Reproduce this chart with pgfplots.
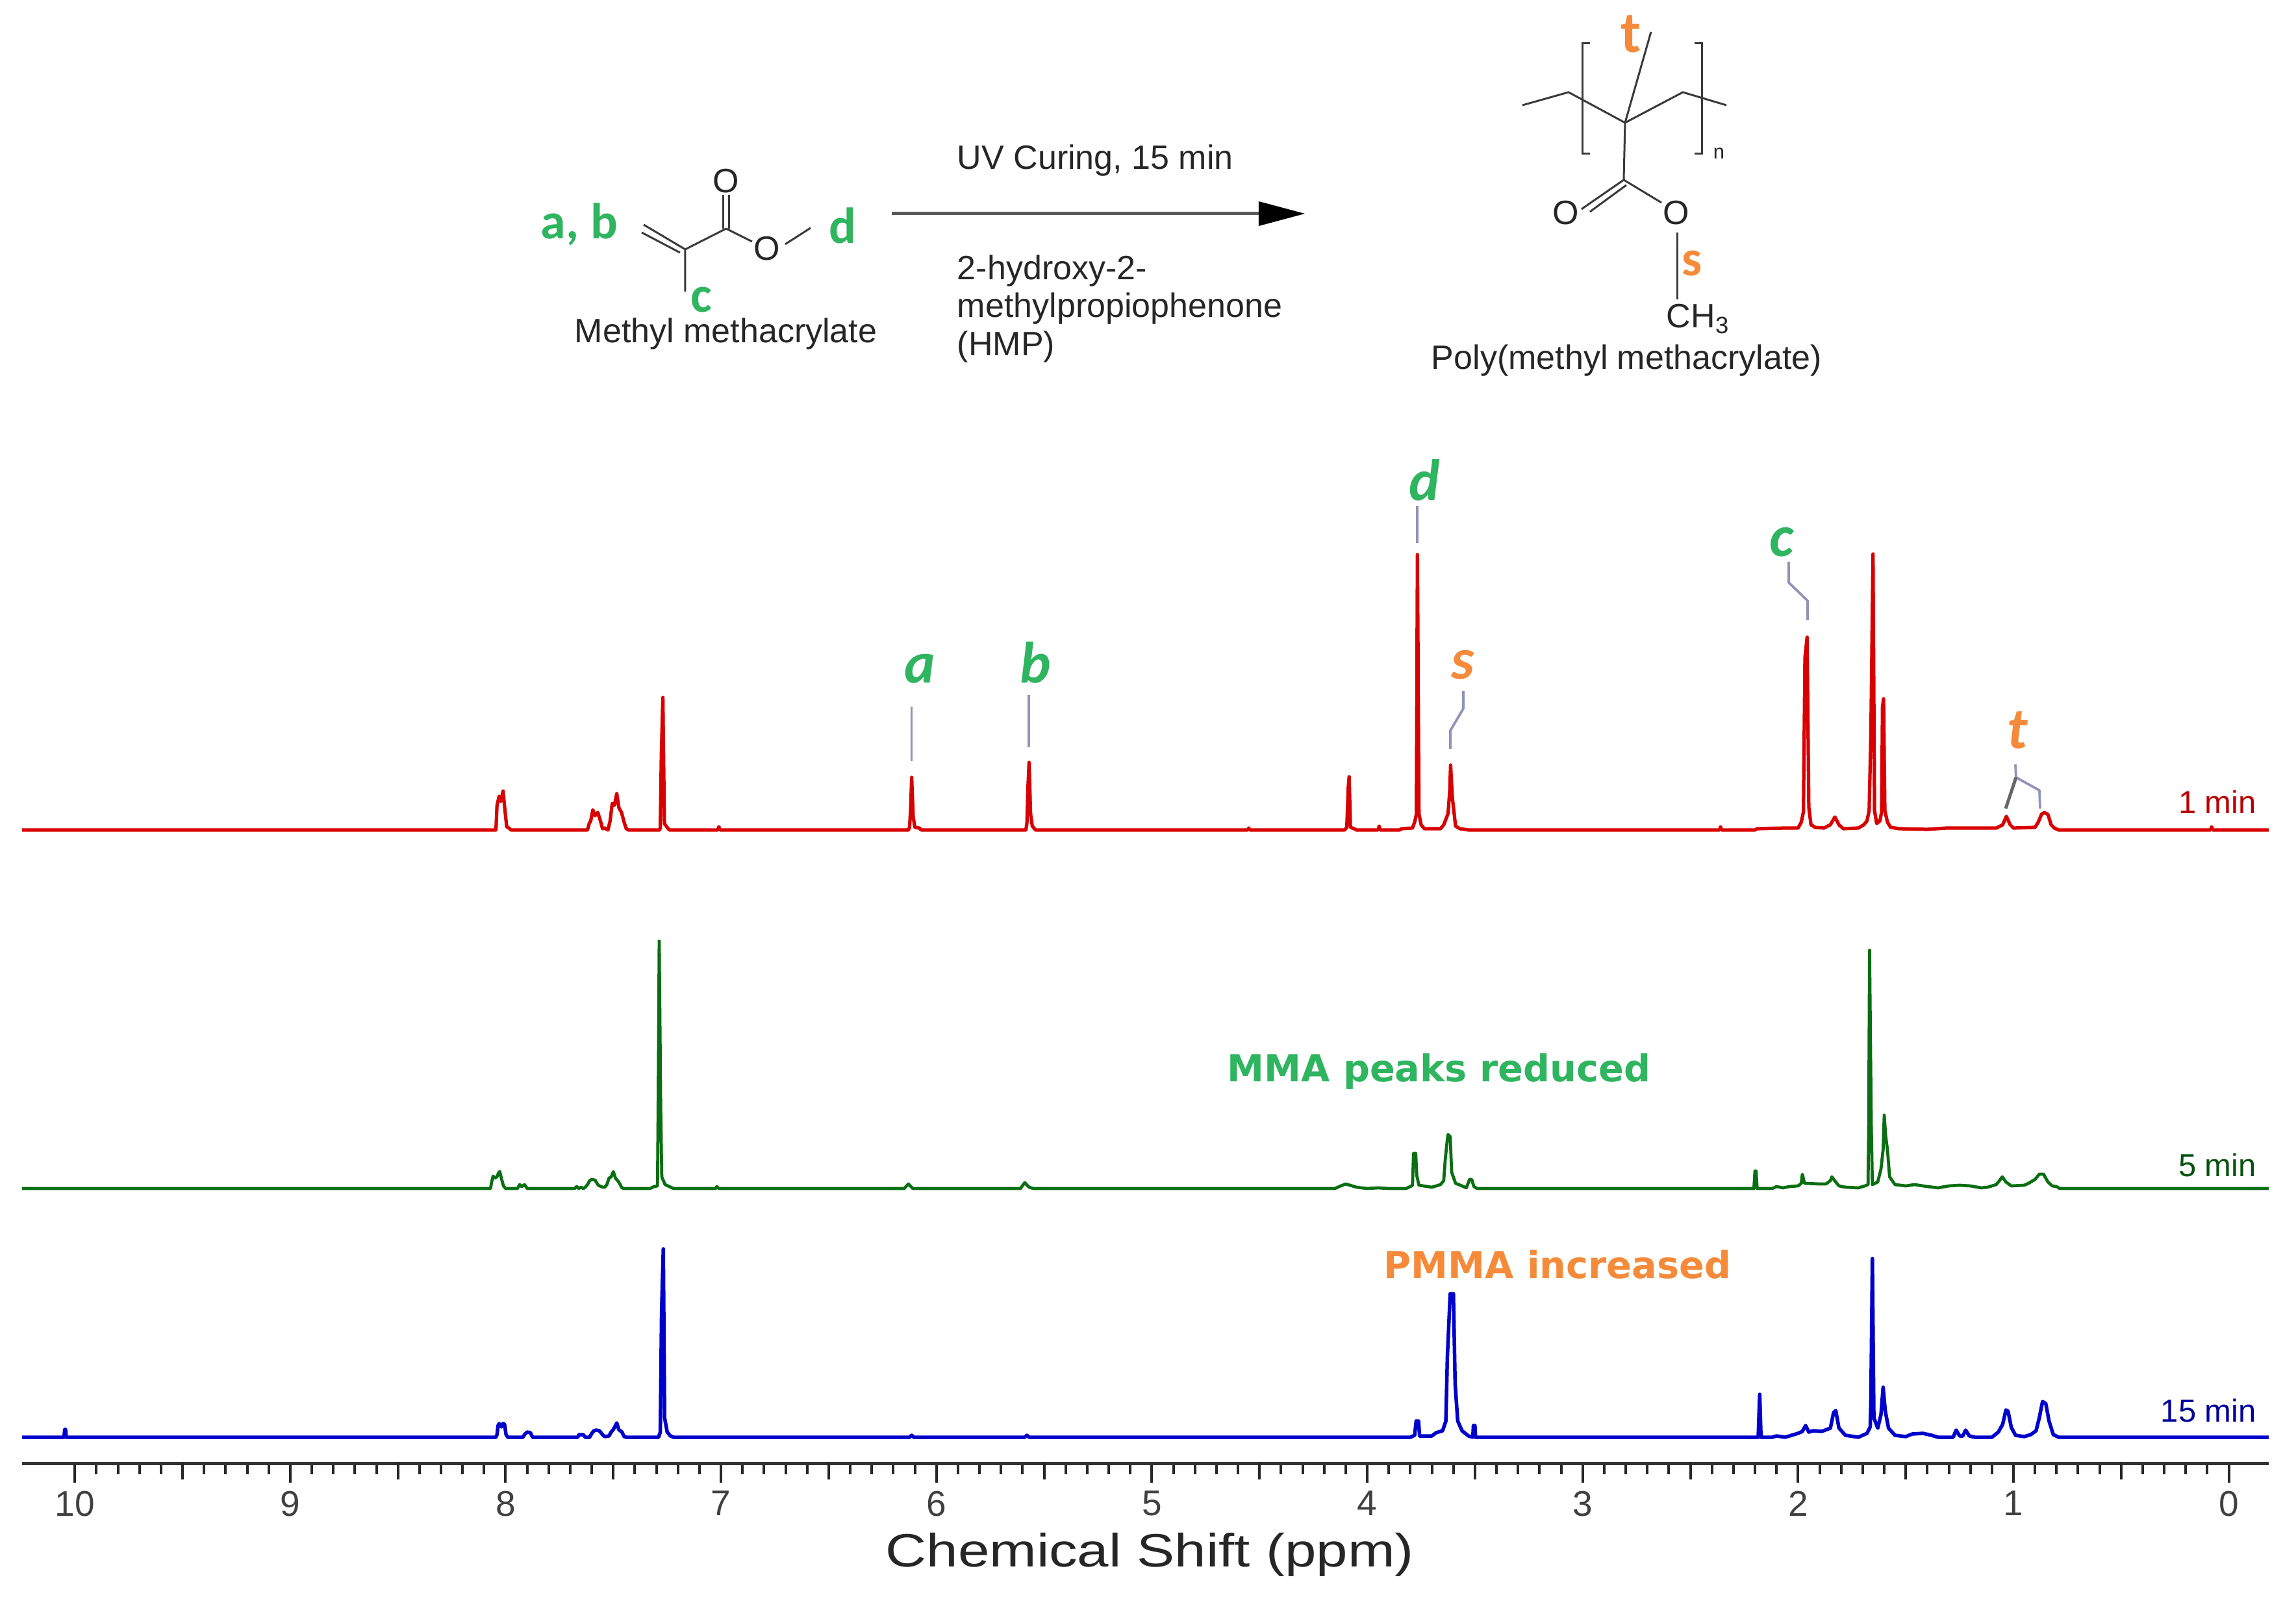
\documentclass[border=0pt]{standalone}
\usepackage{fontspec}
\usepackage{graphicx}
\usepackage{pgfplots}
\pgfplotsset{compat=1.18}
\setmainfont{Liberation Sans}
\newfontfamily\carl{Carlito}
\newfontfamily\verd{DejaVu Sans}
\newcommand{\fs}[1]{\fontsize{#1pt}{#1pt}\selectfont}

\definecolor{specred}{HTML}{D80000}
\definecolor{specgreen}{HTML}{0A6E12}
\definecolor{specblue}{HTML}{0000CC}
\definecolor{lblgreen}{HTML}{2FB45F}
\definecolor{lblorange}{HTML}{F58B3A}
\definecolor{leader}{HTML}{9292B8}
\definecolor{bond}{HTML}{3A3A3A}

% 1 image pixel = 0.2pt, y measured down from the top left corner
\pgfplotsset{
  spec/.style={
    scale only axis, width=691.8pt, clip=false,
    xmin=-0.185, xmax=10.245, x dir=reverse,
    ymin=0, ymax=500, height=100pt,
    anchor=south west
  }
}

\begin{document}
\begin{tikzpicture}
\path[use as bounding box] (0,0) rectangle (707pt,-491.8pt);

% 1 min
\begin{axis}[spec, axis lines=none, at={(6.8pt,-255.6pt)}]
\addplot[specred, line width=1.05pt, line join=round] coordinates {
(10.245,0)(8.045,0)(8.04,38)(8.03,52)(8.022,44)(8.012,60)(8.003,30)(7.995,5)(7.985,3)(7.975,0)
(7.62,0)(7.612,10)(7.605,14)(7.595,31)(7.585,22)(7.572,27)(7.56,14)(7.55,2)(7.54,3)(7.525,0)
(7.515,14)(7.505,41)(7.495,38)(7.484,56)(7.474,34)(7.462,27)(7.45,12)(7.44,2)(7.43,0)
(7.285,0)(7.282,4)(7.277,117)(7.27,204)(7.263,10)(7.25,4)(7.24,0)
(7.015,0)(7.01,5)(7.005,0)
(6.13,0)(6.125,4)(6.12,30)(6.115,81)(6.108,20)(6.1,4)(6.08,3)(6.07,0)
(5.585,0)(5.58,10)(5.575,67)(5.57,104)(5.563,25)(5.555,6)(5.54,0)
(4.555,0)(4.55,3)(4.545,0)
(4.105,0)(4.095,4)(4.088,66)(4.084,82)(4.078,4)(4.06,2)(4.05,0)
(3.95,0)(3.945,6)(3.94,0)
(3.85,0)(3.84,2)(3.79,3)(3.78,12)(3.772,24)(3.767,424)(3.76,25)(3.75,8)(3.735,2)(3.66,2)
(3.645,8)(3.625,25)(3.617,60)(3.613,100)(3.605,50)(3.598,30)(3.59,6)(3.57,2)(3.53,0)
(2.365,0)(2.36,5)(2.355,0)(2.2,0)(2.19,2)(2.06,3)(2.0,3)(1.985,12)(1.975,28)(1.968,265)(1.958,297)
(1.95,35)(1.94,8)(1.92,4)(1.88,3)(1.85,8)(1.829,20)(1.81,8)(1.79,2)(1.72,3)(1.695,8)(1.68,14)
(1.67,30)(1.662,145)(1.652,425)(1.645,30)(1.635,10)(1.62,14)(1.612,28)(1.608,190)(1.603,202)
(1.597,30)(1.585,12)(1.57,4)(1.53,2)(1.4,1)(1.31,3)(1.08,3)(1.05,8)(1.033,21)(1.015,8)(1.0,3)
(0.9,4)(0.885,12)(0.87,24)(0.857,27)(0.84,24)(0.825,8)(0.81,3)(0.79,0)
(0.085,0)(0.08,5)(0.075,0)(-0.185,0)
};
\end{axis}

% 5 min
\begin{axis}[spec, axis lines=none, at={(6.8pt,-366pt)}]
\addplot[specgreen, line width=0.95pt, line join=round] coordinates {
(10.245,0)(8.07,0)(8.065,10)(8.058,19)(8.05,16)(8.04,18)(8.033,24)(8.027,26)(8.02,16)(8.01,4)(8.0,0)
(7.945,0)(7.935,6)(7.925,3)(7.912,6)(7.9,0)
(7.68,0)(7.67,3)(7.66,0)(7.65,2)(7.64,0)(7.63,2)(7.62,6)(7.61,12)(7.6,14)(7.585,13)(7.57,5)(7.55,2)
(7.54,2)(7.53,6)(7.52,16)(7.51,18)(7.5,26)(7.49,16)(7.475,10)(7.46,1)(7.45,0)
(7.33,0)(7.31,3)(7.295,4)(7.292,122)(7.287,381)(7.28,122)(7.275,18)(7.26,6)(7.24,3)(7.22,0)
(7.025,0)(7.02,3)(7.01,0)(6.15,0)(6.13,7)(6.11,0)(5.61,0)(5.59,9)(5.57,2)(5.55,0)
(4.15,0)(4.13,3)(4.1,7)(4.08,5)(4.05,2)(4.0,0)(3.95,1)(3.9,0)
(3.82,0)(3.8,3)(3.79,5)(3.785,54)(3.775,54)(3.77,20)(3.76,5)(3.72,3)(3.7,2)(3.66,6)(3.645,12)
(3.638,44)(3.63,70)(3.625,83)(3.615,80)(3.608,25)(3.59,8)(3.56,4)(3.54,1)(3.525,14)(3.515,14)(3.505,3)(3.49,0)
(2.205,0)(2.2,27)(2.195,27)(2.19,0)(2.12,0)(2.1,3)(2.07,1)(2.04,3)(2,4)(1.985,8)(1.98,22)(1.97,8)
(1.9,7)(1.87,7)(1.85,12)(1.843,18)(1.83,12)(1.81,4)(1.78,2)(1.72,1)(1.69,4)(1.675,6)(1.672,97)
(1.668,367)(1.66,97)(1.655,6)(1.63,10)(1.615,30)(1.605,60)(1.6,113)(1.593,80)(1.585,60)(1.575,18)
(1.55,6)(1.5,4)(1.46,6)(1.4,3)(1.35,1)(1.3,4)(1.25,5)(1.2,4)(1.15,1)(1.12,2)(1.08,6)(1.065,12)
(1.052,18)(1.035,10)(1.01,4)(0.95,5)(0.93,8)(0.9,14)(0.88,22)(0.86,22)(0.84,10)(0.82,4)(0.8,3)(0.785,0)(-0.185,0)
};
\end{axis}

% 15 min, carries the ppm scale
\begin{axis}[spec, at={(6.8pt,-450.6pt)}, ymin=-40, height=108pt,
  axis x line=bottom, axis y line=none,
  x axis line style={-, line width=1pt, draw=black!80},
  xtick={0,1,...,10}, minor x tick num=9,
  extra x ticks={0.5,1.5,2.5,3.5,4.5,5.5,6.5,7.5,8.5,9.5},
  extra x tick labels={},
  extra x tick style={major tick length=5pt},
  tick align=outside, major tick length=6pt, minor tick length=3.4pt,
  every tick/.style={draw=black!85, line width=0.8pt},
  tick label style={/pgf/number format/assume math mode=true, font=\fs{11}, text=black!75},
  xticklabel style={yshift=1pt},
  xlabel={\scalebox{1.21}[1]{\fs{14.4}Chemical Shift (ppm)}},
  x label style={at={(axis description cs:0.502,0)}, anchor=base, yshift=-31.8pt, text=black!85}
]
\addplot[specblue, line width=1.1pt, line join=round] coordinates {
(10.245,0)(10.05,0)(10.047,12)(10.043,12)(10.04,0)
(8.045,0)(8.04,4)(8.035,18)(8.03,21)(8.02,16)(8.012,21)(8.005,20)(7.998,4)(7.99,0)
(7.92,0)(7.91,5)(7.9,8)(7.885,7)(7.875,0)
(7.665,0)(7.66,4)(7.64,4)(7.63,0)(7.61,0)(7.6,6)(7.59,10)(7.58,11)(7.565,10)(7.55,4)(7.54,1)
(7.52,2)(7.51,8)(7.5,12)(7.49,18)(7.484,22)(7.475,12)(7.46,8)(7.45,1)(7.44,0)
(7.29,0)(7.282,8)(7.276,193)(7.268,290)(7.262,30)(7.25,8)(7.235,2)(7.22,0)
(6.125,0)(6.115,3)(6.105,0)(5.59,0)(5.58,3)(5.57,0)
(3.8,0)(3.78,3)(3.773,25)(3.762,25)(3.757,2)(3.7,2)(3.68,7)(3.65,10)(3.635,25)(3.628,124)(3.615,221)
(3.6,221)(3.592,82)(3.58,25)(3.56,10)(3.53,2)(3.51,0)(3.507,18)(3.5,18)(3.497,0)
(2.185,0)(2.182,30)(2.178,66)(2.172,0)(2.12,0)(2.1,2)(2.06,0)(2.03,3)(2,6)(1.98,9)(1.965,18)(1.95,8)
(1.93,10)(1.89,9)(1.85,14)(1.835,38)(1.825,41)(1.81,14)(1.78,3)(1.72,0)(1.68,6)(1.665,16)(1.662,53)
(1.655,275)(1.648,30)(1.63,14)(1.615,35)(1.605,77)(1.595,40)(1.58,14)(1.55,3)(1.5,1)(1.47,5)(1.42,6)
(1.38,3)(1.35,0)(1.28,0)(1.266,11)(1.25,2)(1.235,2)(1.222,11)(1.205,2)(1.18,0)(1.1,0)(1.07,8)(1.05,20)
(1.035,42)(1.025,40)(1.01,15)(0.99,3)(0.95,1)(0.92,4)(0.895,10)(0.88,30)(0.865,55)(0.85,52)(0.835,25)
(0.815,4)(0.79,0)(-0.185,0)
};
\end{axis}

\begin{scope}[x=0.2pt, y=-0.2pt]
\tikzset{
  t/.style={inner sep=0pt, anchor=base west, font=\fs{10.4}, text=black!85},
  tr/.style={inner sep=0pt, anchor=base east, font=\fs{9.8}},
  pk/.style={inner sep=0pt, anchor=base, font=\fs{18}\carl\bfseries\itshape},
  sch/.style={inner sep=0pt, anchor=base, font=\fs{15.6}\carl\bfseries, text=lblgreen},
  ld/.style={leader, line width=0.75pt, line join=round},
  bd/.style={bond, line width=0.6pt}
}
% peak labels and leaders
\node[pk, text=lblgreen] at (1416,1052) {a};
\node[pk, text=lblgreen] at (1594,1052) {b};
\node[pk, text=lblgreen] at (2193,771) {d};
\node[pk, text=lblorange] at (2252,1046) {s};
\node[pk, text=lblgreen] at (2743,857) {c};
\node[pk, text=lblorange] at (3106,1153) {t};
\draw[ld] (1403.6,1088) -- (1403.6,1172);
\draw[ld] (1584,1070) -- (1584,1150);
\draw[ld] (2182,779) -- (2182,836);
\draw[ld] (2253,1064) -- (2253,1091) -- (2233,1125) -- (2233,1153);
\draw[ld] (2754,865) -- (2754,897) -- (2783,925) -- (2783,955);
\draw[ld] (3103,1177) -- (3104,1197) -- (3140,1217) -- (3141,1245);
\draw[black!60, line width=1pt] (3104,1197) -- (3088,1245);

% trace names
\node[tr, text=specred!85!black] at (3475,1253) {1 min};
\node[tr, text=specgreen!75!black] at (3475,1812) {5 min};
\node[tr, text=specblue!75!black] at (3475,2190) {15 min};
\node[inner sep=0pt, anchor=base west, font=\fs{11.45}\verd\bfseries, text=lblgreen] at (1889,1666) {MMA peaks reduced};
\node[inner sep=0pt, anchor=base west, font=\fs{11.45}\verd\bfseries, text=lblorange] at (2130,1969) {PMMA increased};

% reaction scheme
\draw[black!65, line width=1pt] (1373,329) -- (1940,329);
\fill[black] (1938,310) -- (2009,329) -- (1938,348) -- cycle;
\node[t] at (1473,261) {UV Curing, 15 min};
\node[t] at (1473,431) {2-hydroxy-2-};
\node[t] at (1473,489) {methylpropiophenone};
\node[t] at (1473,548) {(HMP)};
\node[t] at (884,528) {Methyl methacrylate};
\node[t] at (2203,569) {Poly(methyl methacrylate)};

% monomer
\node[t, anchor=base] at (1118,297) {O};
\node[t, anchor=base] at (1181,401) {O};
\draw[bd] (1114,300) -- (1114,352) (1123,300) -- (1123,352);
\draw[bd] (1118,352) -- (1158,372) (1209,376) -- (1248,351);
\draw[bd] (1118,352) -- (1055,384) -- (991,346) (988,358) -- (1047,389) (1055,384) -- (1055,449);
\node[sch] at (892,368) {a, b};
\node[sch] at (1297,375) {d};
\node[sch] at (1080,481) {c};

% polymer
\draw[bd] (2448,67) -- (2437,67) -- (2437,237) -- (2448,237);
\draw[bd] (2609,67) -- (2621,67) -- (2621,237) -- (2609,237);
\node[inner sep=0pt, anchor=base west, font=\fs{6.2}, text=black!85] at (2637,245) {n};
\draw[bd] (2344,162) -- (2415,142) -- (2502,189) -- (2591,142) -- (2658,162);
\draw[bd] (2502,189) -- (2542,49) (2502,189) -- (2500,277);
\draw[bd] (2500,277) -- (2435,322) (2504,285) -- (2448,326) (2500,277) -- (2558,312);
\node[t, anchor=base] at (2411,346) {O};
\node[t, anchor=base] at (2581,346) {O};
\draw[bd] (2583,358) -- (2583,461);
\node[t] at (2565,505) {CH\textsubscript{3}};
\node[sch, text=lblorange, font=\fs{18}\carl\bfseries] at (2511,81) {t};
\node[sch, text=lblorange] at (2605,425) {s};
\end{scope}
\end{tikzpicture}
\end{document}
